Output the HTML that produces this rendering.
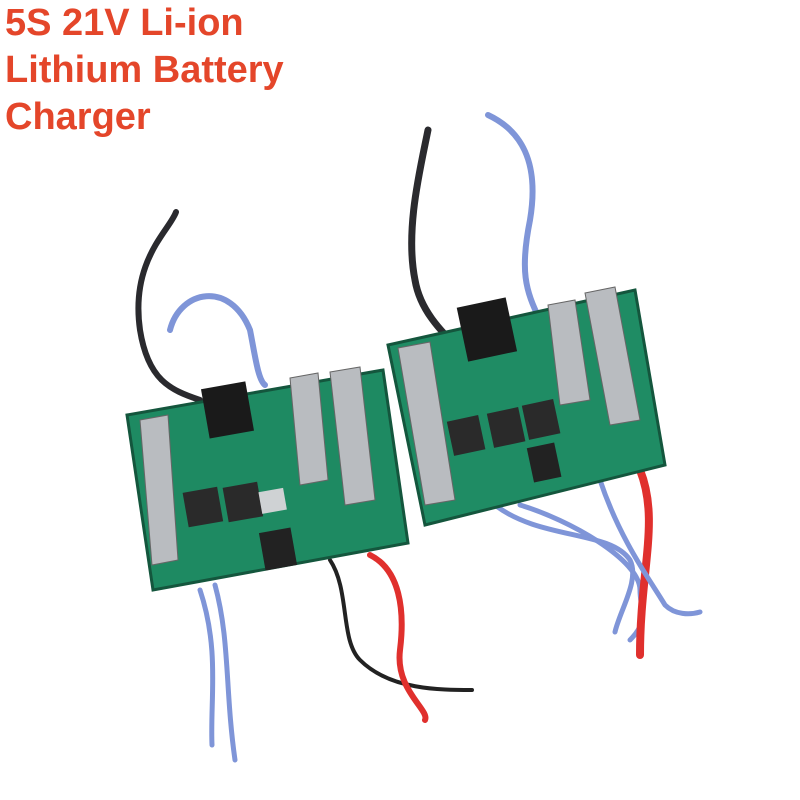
<!DOCTYPE html>
<html><head><meta charset="utf-8"><style>
html,body{margin:0;padding:0;background:#fff;width:800px;height:800px;overflow:hidden}
.t{position:absolute;left:5px;font-family:"Liberation Sans",sans-serif;font-weight:bold;font-size:38px;color:#e4462a;line-height:47px}
</style></head><body>
<svg width="800" height="800" style="position:absolute;left:0;top:0">
<g fill="none" stroke-linecap="round">
<path d="M176 212 C170 230,130 260,140 330 C148 380,170 390,200 400" stroke="#2a2a2e" stroke-width="6"/>
<path d="M170 330 C180 290,230 280,250 330 C255 355,258 380,265 385" stroke="#7f95d8" stroke-width="6"/>
<path d="M215 585 C230 640,225 690,235 760" stroke="#7f95d8" stroke-width="5"/>
<path d="M200 590 C220 650,210 700,212 745" stroke="#7f95d8" stroke-width="5"/>
<path d="M330 560 C350 590,340 640,360 660 C390 690,440 690,472 690" stroke="#222" stroke-width="4"/>
<path d="M370 555 C400 570,405 610,400 650 C395 690,430 710,425 720" stroke="#e0302d" stroke-width="6"/>
<path d="M428 130 C420 170,405 230,415 280 C420 310,440 330,460 350" stroke="#2a2a2e" stroke-width="7"/>
<path d="M488 115 C520 130,540 160,530 220 C520 270,525 290,540 320" stroke="#7f95d8" stroke-width="6"/>
<path d="M495 505 C540 540,610 530,630 560 C640 580,620 610,615 632" stroke="#7f95d8" stroke-width="5"/>
<path d="M520 505 C570 520,640 560,640 590 C640 610,650 620,630 640" stroke="#7f95d8" stroke-width="5"/>
<path d="M640 470 C660 520,640 570,640 655" stroke="#e0302d" stroke-width="8"/>
<path d="M600 480 C620 540,650 580,665 605 C675 615,690 615,700 612" stroke="#7f95d8" stroke-width="5"/>
</g>
<polygon points="127,415 383,370 408,543 153,590" fill="#1e8a62" stroke="#14563d" stroke-width="3"/>
<rect x="205" y="385" width="45" height="50" fill="#1a1a1a" transform="rotate(-10 227 410)"/>
<polygon points="140,420 168,415 178,560 152,565" fill="#b9bcc0" stroke="#666"/>
<polygon points="290,378 318,373 328,480 300,485" fill="#b9bcc0" stroke="#666"/>
<polygon points="330,372 360,367 375,500 345,505" fill="#b9bcc0" stroke="#666"/>
<rect x="185" y="490" width="35" height="35" fill="#2a2a2a" transform="rotate(-10 200 505)"/>
<rect x="225" y="485" width="35" height="35" fill="#2a2a2a" transform="rotate(-10 240 500)"/>
<rect x="262" y="530" width="32" height="38" fill="#222" transform="rotate(-10 278 549)"/>
<rect x="260" y="490" width="25" height="22" fill="#cfd2d4" transform="rotate(-10 272 500)"/>
<polygon points="388,345 635,290 665,465 425,525" fill="#1f8c64" stroke="#14563d" stroke-width="3"/>
<rect x="462" y="302" width="50" height="55" fill="#1a1a1a" transform="rotate(-12 487 330)"/>
<polygon points="398,348 430,342 455,500 425,505" fill="#b9bcc0" stroke="#666"/>
<polygon points="548,305 575,300 590,400 560,405" fill="#b9bcc0" stroke="#666"/>
<polygon points="585,293 615,287 640,420 610,425" fill="#b9bcc0" stroke="#666"/>
<rect x="450" y="418" width="32" height="35" fill="#2a2a2a" transform="rotate(-12 466 435)"/>
<rect x="490" y="410" width="32" height="35" fill="#2a2a2a" transform="rotate(-12 506 427)"/>
<rect x="525" y="402" width="32" height="35" fill="#2a2a2a" transform="rotate(-12 541 419)"/>
<rect x="530" y="445" width="28" height="35" fill="#222" transform="rotate(-12 544 462)"/>
</svg>
<div class="t" style="top:0">5S 21V Li-ion</div>
<div class="t" style="top:47px">Lithium Battery</div>
<div class="t" style="top:94px">Charger</div>
</body></html>
